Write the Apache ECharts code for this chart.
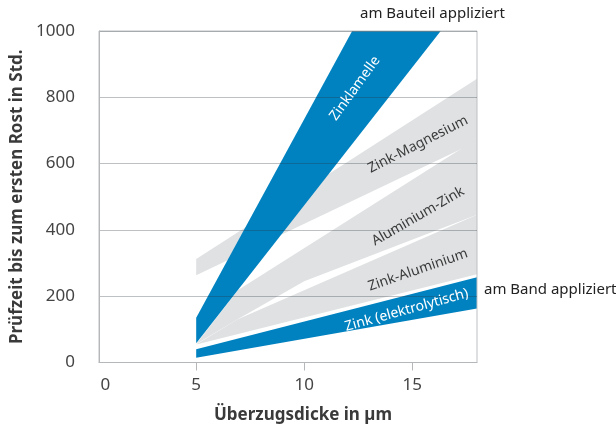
<!DOCTYPE html>
<html>
<head>
<meta charset="utf-8">
<script src="https://cdn.jsdelivr.net/npm/echarts@6/dist/echarts.min.js"></script>
<style>
  html, body { margin: 0; padding: 0; background: #fff; }
  #chart { width: 616px; height: 433px; }
</style>
</head>
<body>
<div id="chart"></div>
<script>
// Bänder als Eckpunkte [Überzugsdicke µm, Prüfzeit h]
const zinkMagnesium = [[5, 263], [5, 312], [18, 856], [18, 667]];
const aluminiumZink = [[5, 56], [6.94, 219], [18, 675], [18, 446], [10, 245], [6.9, 130]];
const zinkAluminium = [[5, 54], [6.9, 130], [18, 446], [18, 266]];
const zinkElektrolytisch = [[5, 14], [5, 40], [18, 257], [18, 163]];
const zinklamelle = [[5, 58], [5, 135], [12.22, 1000], [16.32, 1000]];

const yTicks = [0, 200, 400, 600, 800, 1000];
const xTickValues = [5, 10, 15];
const xLabelValues = [0.8, 5, 10, 15];
const xLabelTexts = ['0', '5', '10', '15'];

const BLUE = '#0082c0';
const GREY = '#dfe1e2';
const FONT = 'Noto Sans';

// Beschriftung der Bänder
const bandLabels = [
    { text: 'Zinklamelle', pos: [12.35, 827], angle: 54, color: '#fff' },
    { text: 'Zink-Magnesium', pos: [15.27, 658], angle: 27, color: '#3a3a3a' },
    { text: 'Aluminium-Zink', pos: [15.27, 441], angle: 30, color: '#3a3a3a' },
    { text: 'Zink-Aluminium', pos: [15.27, 279], angle: 19, color: '#3a3a3a' },
    { text: 'Zink (elektrolytisch)', pos: [14.74, 158], angle: 15.5, color: '#fff' }
];

function bandSeries(name, points, color) {
    return {
        name: name,
        type: 'custom',
        data: points,
        z: 2,
        silent: true,
        renderItem: function (params, api) {
            if (params.dataIndex !== 0) return;
            return {
                type: 'polygon',
                shape: { points: points.map(p => api.coord(p)) },
                style: { fill: color }
            };
        }
    };
}

const chart = echarts.init(document.getElementById('chart'));
chart.setOption({
    animation: false,
    grid: {
        left: 99, right: 139, top: 31, bottom: 70.5,
        show: true, z: 5,
        backgroundColor: 'transparent',
        borderColor: '#bcbfc2', borderWidth: 1
    },
    xAxis: {
        type: 'value', min: 0.5, max: 18, z: 5,
        name: 'Überzugsdicke in µm',
        nameLocation: 'middle', nameGap: 44,
        nameTextStyle: { fontFamily: FONT, fontSize: 17, fontWeight: 'bold', color: '#3a3a3a', padding: [0, 0, 0, 30] },
        axisLine: { lineStyle: { color: '#b4b8bb', width: 1 } },
        axisTick: { show: true, length: 8, customValues: xTickValues, lineStyle: { color: '#b4b8bb' } },
        axisLabel: {
            customValues: xLabelValues,
            formatter: v => xLabelTexts[xLabelValues.indexOf(v)],
            margin: 14, fontFamily: FONT, fontSize: 17, color: '#444'
        },
        splitLine: { show: false }
    },
    yAxis: {
        type: 'value', min: 0, max: 1000, interval: 200, z: 5,
        name: 'Prüfzeit bis zum ersten Rost in Std.',
        nameLocation: 'middle', nameGap: 73,
        nameTextStyle: { fontFamily: FONT, fontSize: 17, fontWeight: 'bold', color: '#3a3a3a' },
        axisLine: { show: true, lineStyle: { color: '#b4b8bb', width: 1 } },
        axisTick: { show: false },
        axisLabel: {
            margin: 24, fontFamily: FONT, fontSize: 17, color: '#444',
            formatter: v => (yTicks.indexOf(v) >= 0 ? String(v) : '')
        },
        splitLine: { show: true, lineStyle: { color: 'rgba(40,50,60,0.3)', width: 1 } }
    },
    series: [
        bandSeries('Zink-Magnesium', zinkMagnesium, GREY),
        bandSeries('Aluminium-Zink', aluminiumZink, GREY),
        bandSeries('Zink-Aluminium', zinkAluminium, GREY),
        bandSeries('Zink (elektrolytisch)', zinkElektrolytisch, BLUE),
        bandSeries('Zinklamelle', zinklamelle, BLUE),
        {
            type: 'custom',
            data: bandLabels.map(l => l.pos),
            z: 6,
            silent: true,
            renderItem: function (params, api) {
                const l = bandLabels[params.dataIndex];
                const c = api.coord(l.pos);
                return {
                    type: 'text',
                    x: c[0], y: c[1],
                    rotation: l.angle * Math.PI / 180,
                    style: {
                        text: l.text, fill: l.color,
                        font: '14px "' + FONT + '"',
                        align: 'center', verticalAlign: 'middle'
                    }
                };
            }
        }
    ],
    graphic: [
        { type: 'text', left: 360, top: 6, style: { text: 'am Bauteil appliziert', font: '15px "' + FONT + '"', fill: '#222' } },
        { type: 'text', left: 484, top: 282, style: { text: 'am Band appliziert', font: '15px "' + FONT + '"', fill: '#222' } }
    ]
});
</script>
</body>
</html>
